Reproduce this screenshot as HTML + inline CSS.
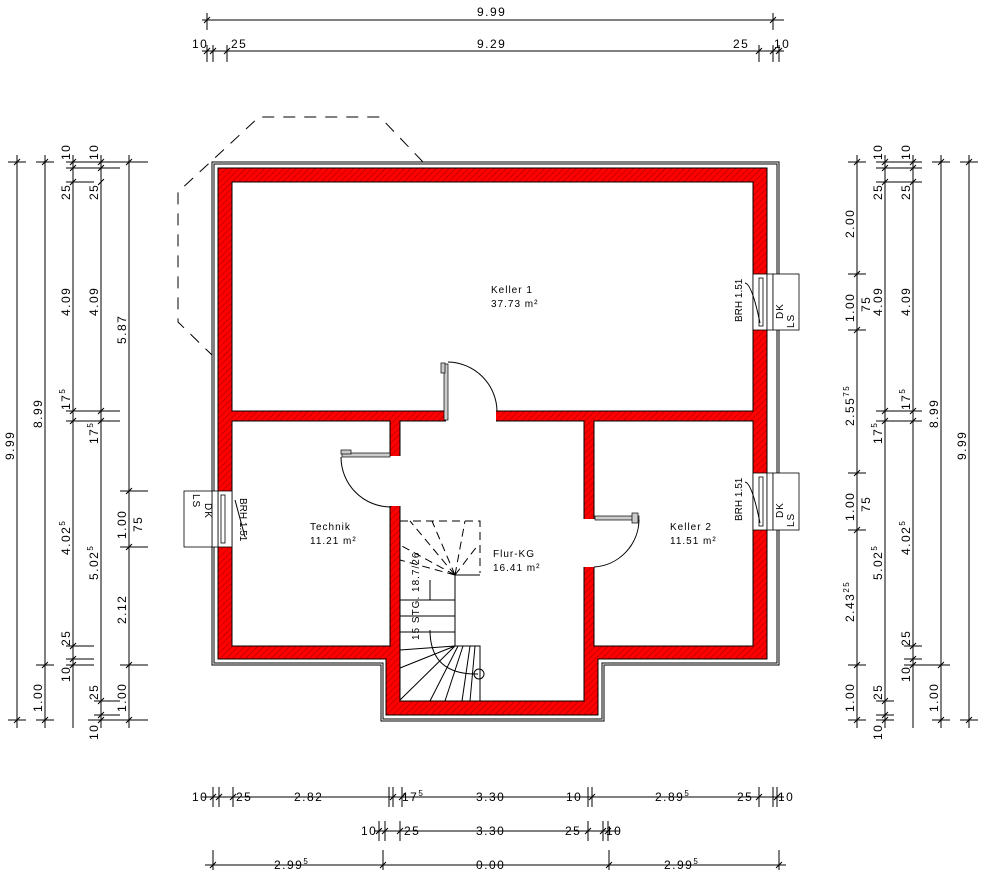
<!DOCTYPE html>
<html><head><meta charset="utf-8"><style>
html,body{margin:0;padding:0;background:#fff;}
svg{display:block;font-family:"Liberation Sans",sans-serif;}
.d{stroke:#000;stroke-width:1;fill:none}
.t{font-size:12px;letter-spacing:1.5px;fill:#000}
.r{font-size:10px;letter-spacing:1px;fill:#000}
</style></head><body>
<svg width="1000" height="891" viewBox="0 0 1000 891" xmlns="http://www.w3.org/2000/svg">
<defs>
<pattern id="h" width="4.5" height="4.5" patternUnits="userSpaceOnUse" patternTransform="rotate(45)">
<rect width="4.5" height="4.5" fill="#ff0000"/><line x1="0" y1="0" x2="0" y2="4.5" stroke="#800000" stroke-width="0.8"/></pattern>
</defs>

<path d="M212,162H779V665H604V721H381V665H212Z" class="d"/>
<path d="M214,164H777V663H602V719H383V663H214Z" class="d" stroke-width="0.6"/>

<path d="M218,168H767V659H598V715H386V659H218Z" fill="url(#h)" stroke="#000" stroke-width="1"/>
<g fill="#fff" stroke="#000" stroke-width="1">
<rect x="232" y="182" width="521" height="229"/>
<rect x="232" y="421" width="158" height="225"/>
<rect x="594" y="421" width="159" height="225"/>
<rect x="400" y="421" width="184" height="280"/>
</g>
<g fill="#fff">
<rect x="446" y="410" width="50" height="12"/>
<rect x="389" y="456" width="12" height="50"/>
<rect x="583" y="519" width="12" height="48"/>
</g>
<path d="M400,456V421H445" class="d"/>

<g fill="#fff" stroke="#000" stroke-width="0.8">
<rect x="753" y="274" width="14" height="56"/><rect x="759" y="278" width="4" height="48"/>
<rect x="767" y="274" width="6" height="56"/>
<rect x="753" y="473" width="14" height="57"/><rect x="759" y="477" width="4" height="49"/>
<rect x="767" y="473" width="6" height="57"/>
<rect x="218" y="491" width="14" height="56"/><rect x="221" y="495" width="4" height="48"/>
<rect x="212" y="491" width="6" height="56"/>
<rect x="773" y="274" width="26" height="56"/>
<rect x="773" y="473" width="26" height="57"/>
<rect x="184" y="491" width="28" height="56"/>
</g>
<g class="r" font-size="9">
<text transform="translate(783,319) rotate(-90)">DK</text>
<text transform="translate(794,328) rotate(-90)">LS</text>
<text transform="translate(783,518) rotate(-90)">DK</text>
<text transform="translate(794,527) rotate(-90)">LS</text>
<text transform="translate(205,503) rotate(90)">DK</text>
<text transform="translate(193,494) rotate(90)">LS</text>
<text transform="translate(742,322) rotate(-90)" letter-spacing="0">BRH 1.51</text>
<text transform="translate(742,521) rotate(-90)" letter-spacing="0">BRH 1.51</text>
<text transform="translate(240,498) rotate(90)" letter-spacing="0">BRH 1.51</text>
</g>
<g class="d" stroke-width="0.6">
<path d="M745,283Q752,284 760,323"/><path d="M745,482Q752,483 760,523"/><path d="M235,500L245,537"/>
</g>

<g fill="#ccc" stroke="#000" stroke-width="0.7">
<rect x="444" y="364" width="4" height="56"/><rect x="441" y="363" width="4" height="10"/>
<rect x="342" y="453" width="48" height="4"/><rect x="341" y="450" width="10" height="4"/>
<rect x="595" y="516" width="44" height="4"/><rect x="632" y="513" width="6" height="10"/>
</g>
<g class="d" stroke-width="0.8">
<path d="M448,362A50,50 0 0 1 497,411"/>
<path d="M341,457A50,50 0 0 0 391,507"/>
<path d="M639,520A48,48 0 0 1 594,567"/>
</g>

<g class="d" stroke-dasharray="12,9">
<path d="M423,162L380,117H259L178,192V322L212,355"/>
</g>

<g class="d" stroke-width="0.8">
<path d="M400,521H480V573" stroke-dasharray="8,5"/>
<path d="M455,575H480M455,575V646H480V701"/>
<path d="M400,600H455M400,616H455M400,632H455"/>
<path d="M455,575L400,545M455,575L400,560M455,575L432,521M455,575L465,521M455,575L410,521M455,575L478,545" stroke-dasharray="8,5"/>
<path d="M455,646L400,650M455,646L400,668M455,646L400,700M458,646L430,701M463,646L445,701M470,646L462,701M475,646L470,701"/>
<path d="M430,580V600M430,630Q430,675 478,674"/>
<circle cx="479" cy="674" r="5"/>
</g>
<text class="r" font-size="9" letter-spacing="0" transform="translate(419,640) rotate(-90)">15 STG. 18.7/26</text>

<g class="r">
<text x="491" y="293">Keller 1</text><text x="491" y="307">37.73 m²</text>
<text x="310" y="530">Technik</text><text x="310" y="544">11.21 m²</text>
<text x="493" y="557">Flur-KG</text><text x="493" y="571">16.41 m²</text>
<text x="670" y="530">Keller 2</text><text x="670" y="544">11.51 m²</text>
</g>

<g class="d" stroke-width="0.9">
<line x1="202" y1="20" x2="784" y2="20"/><line x1="207" y1="13" x2="207" y2="30"/><line x1="773" y1="13" x2="773" y2="30"/>
<path d="M204,23l6,-6M770,23l6,-6"/>
<line x1="202" y1="51" x2="784" y2="51"/>
<path d="M207,45V62M213,45V62M227,45V62M759,45V62M773,45V62M779,45V62"/>
<path d="M204,54l6,-6M210,54l6,-6M224,54l6,-6M756,54l6,-6M770,54l6,-6M776,54l6,-6"/>
</g>
<g class="t">
<text x="477" y="16">9.99</text>
<text x="192" y="48">10</text><text x="231" y="48">25</text><text x="477" y="48">9.29</text><text x="733" y="48">25</text><text x="774" y="48">10</text>
</g>

<g class="d" stroke-width="0.9">
<line x1="202" y1="797" x2="784" y2="797"/>
<path d="M213,787V807M219,787V807M233,787V807M389,787V807M393,787V807M402,787V807M588,787V807M592,787V807M759,787V807M773,787V807M777,787V807"/>
<path d="M210,800l6,-6M216,800l6,-6M230,800l6,-6M390,800l6,-6M399,800l6,-6M589,800l6,-6M756,800l6,-6M774,800l6,-6"/>
<line x1="374" y1="831" x2="620" y2="831"/>
<path d="M379,821V841M385,821V841M400,821V841M588,821V841M603,821V841M608,821V841"/>
<path d="M376,834l6,-6M382,834l6,-6M397,834l6,-6M585,834l6,-6M600,834l6,-6M605,834l6,-6"/>
<line x1="205" y1="865" x2="786" y2="865"/>
<path d="M213,850V870M383,850V870M609,850V870M779,850V870"/>
<path d="M210,868l6,-6M380,868l6,-6M606,868l6,-6M776,868l6,-6"/>
</g>
<g class="t">
<text x="192" y="801">10</text><text x="236" y="801">25</text><text x="294" y="801">2.82</text>
<text x="402" y="801">17<tspan dy="-5" font-size="8">5</tspan></text><text x="476" y="801">3.30</text>
<text x="566" y="801">10</text><text x="655" y="801">2.89<tspan dy="-5" font-size="8">5</tspan></text>
<text x="737" y="801">25</text><text x="778" y="801">10</text>
<text x="361" y="835">10</text><text x="404" y="835">25</text><text x="476" y="835">3.30</text><text x="565" y="835">25</text><text x="606" y="835">10</text>
<text x="274" y="869">2.99<tspan dy="-5" font-size="8">5</tspan></text>
<text x="476" y="869">0.00</text>
<text x="664" y="869">2.99<tspan dy="-5" font-size="8">5</tspan></text>
</g>

<g class="d" stroke-width="0.9">
<line x1="17" y1="155" x2="17" y2="728"/>
<line x1="45" y1="155" x2="45" y2="728"/>
<line x1="73" y1="155" x2="73" y2="728"/>
<line x1="101" y1="155" x2="101" y2="728"/>
<line x1="129" y1="155" x2="129" y2="728"/>
<path d="M8,162H26M8,720H26"/>
<path d="M36,162H54M36,665H54M36,720H54"/>
<path d="M66,162H120M66,168H120M66,182H94M66,411H120M66,421H120M66,646H94M66,659H94M66,665H94"/>
<path d="M94,701H120M94,715H120M88,720H120"/>
<path d="M120,162H148M120,491H148M120,547H148M120,665H148M120,720H148"/>
<path d="M14,165l6,-6M14,723l6,-6M42,165l6,-6M42,668l6,-6M42,723l6,-6"/>
<path d="M70,165l6,-6M70,171l6,-6M70,185l6,-6M70,414l6,-6M70,424l6,-6M70,649l6,-6M70,662l6,-6M70,668l6,-6"/>
<path d="M98,165l6,-6M98,171l6,-6M98,185l6,-6M98,414l6,-6M98,424l6,-6M98,704l6,-6M98,718l6,-6M98,723l6,-6"/>
<path d="M126,165l6,-6M126,494l6,-6M126,550l6,-6M126,668l6,-6M126,723l6,-6"/>
</g>
<g class="t">
<text transform="translate(14,460) rotate(-90)">9.99</text>
<text transform="translate(42,428) rotate(-90)">8.99</text>
<text transform="translate(42,712) rotate(-90)">1.00</text>
<text transform="translate(70,160) rotate(-90)">10</text>
<text transform="translate(70,200) rotate(-90)">25</text>
<text transform="translate(70,316) rotate(-90)">4.09</text>
<text transform="translate(70,410) rotate(-90)">17<tspan dy="-5" font-size="8">5</tspan></text>
<text transform="translate(70,555) rotate(-90)">4.02<tspan dy="-5" font-size="8">5</tspan></text>
<text transform="translate(70,646) rotate(-90)">25</text>
<text transform="translate(70,682) rotate(-90)">10</text>
<text transform="translate(98,160) rotate(-90)">10</text>
<text transform="translate(98,200) rotate(-90)">25</text>
<text transform="translate(98,316) rotate(-90)">4.09</text>
<text transform="translate(98,444) rotate(-90)">17<tspan dy="-5" font-size="8">5</tspan></text>
<text transform="translate(98,580) rotate(-90)">5.02<tspan dy="-5" font-size="8">5</tspan></text>
<text transform="translate(98,700) rotate(-90)">25</text>
<text transform="translate(98,740) rotate(-90)">10</text>
<text transform="translate(126,344) rotate(-90)">5.87</text>
<text transform="translate(126,539) rotate(-90)">1.00</text>
<text transform="translate(142,532) rotate(-90)">75</text>
<text transform="translate(126,624) rotate(-90)">2.12</text>
<text transform="translate(126,712) rotate(-90)">1.00</text>
</g>

<g class="d" stroke-width="0.9">
<line x1="857" y1="155" x2="857" y2="728"/>
<line x1="885" y1="155" x2="885" y2="728"/>
<line x1="913" y1="155" x2="913" y2="728"/>
<line x1="941" y1="155" x2="941" y2="728"/>
<line x1="969" y1="155" x2="969" y2="728"/>
<path d="M848,162H866M848,274H866M848,330H866M848,473H866M848,530H866M848,665H866M848,720H866"/>
<path d="M876,162H922M876,168H922M876,182H922M876,411H922M876,421H922M876,701H894M876,715H894M876,720H894"/>
<path d="M904,646H922M904,659H922M904,665H950M932,162H950M932,720H950"/>
<path d="M960,162H978M960,720H978"/>
<path d="M854,165l6,-6M854,277l6,-6M854,333l6,-6M854,476l6,-6M854,533l6,-6M854,668l6,-6M854,723l6,-6"/>
<path d="M882,165l6,-6M882,171l6,-6M882,185l6,-6M882,414l6,-6M882,424l6,-6M882,704l6,-6M882,718l6,-6M882,723l6,-6"/>
<path d="M910,165l6,-6M910,171l6,-6M910,185l6,-6M910,414l6,-6M910,424l6,-6M910,649l6,-6M910,662l6,-6M910,668l6,-6"/>
<path d="M938,165l6,-6M938,668l6,-6M938,723l6,-6M966,165l6,-6M966,723l6,-6"/>
</g>
<g class="t">
<text transform="translate(854,238) rotate(-90)">2.00</text>
<text transform="translate(854,322) rotate(-90)">1.00</text>
<text transform="translate(870,312) rotate(-90)">75</text>
<text transform="translate(854,426) rotate(-90)">2.55<tspan dy="-5" font-size="8">75</tspan></text>
<text transform="translate(854,521) rotate(-90)">1.00</text>
<text transform="translate(870,512) rotate(-90)">75</text>
<text transform="translate(854,622) rotate(-90)">2.43<tspan dy="-5" font-size="8">25</tspan></text>
<text transform="translate(854,712) rotate(-90)">1.00</text>
<text transform="translate(882,160) rotate(-90)">10</text>
<text transform="translate(882,200) rotate(-90)">25</text>
<text transform="translate(882,316) rotate(-90)">4.09</text>
<text transform="translate(882,444) rotate(-90)">17<tspan dy="-5" font-size="8">5</tspan></text>
<text transform="translate(882,580) rotate(-90)">5.02<tspan dy="-5" font-size="8">5</tspan></text>
<text transform="translate(882,700) rotate(-90)">25</text>
<text transform="translate(882,740) rotate(-90)">10</text>
<text transform="translate(910,160) rotate(-90)">10</text>
<text transform="translate(910,200) rotate(-90)">25</text>
<text transform="translate(910,316) rotate(-90)">4.09</text>
<text transform="translate(910,410) rotate(-90)">17<tspan dy="-5" font-size="8">5</tspan></text>
<text transform="translate(910,555) rotate(-90)">4.02<tspan dy="-5" font-size="8">5</tspan></text>
<text transform="translate(910,646) rotate(-90)">25</text>
<text transform="translate(910,682) rotate(-90)">10</text>
<text transform="translate(938,428) rotate(-90)">8.99</text>
<text transform="translate(938,712) rotate(-90)">1.00</text>
<text transform="translate(966,460) rotate(-90)">9.99</text>
</g>
</svg>
</body></html>
